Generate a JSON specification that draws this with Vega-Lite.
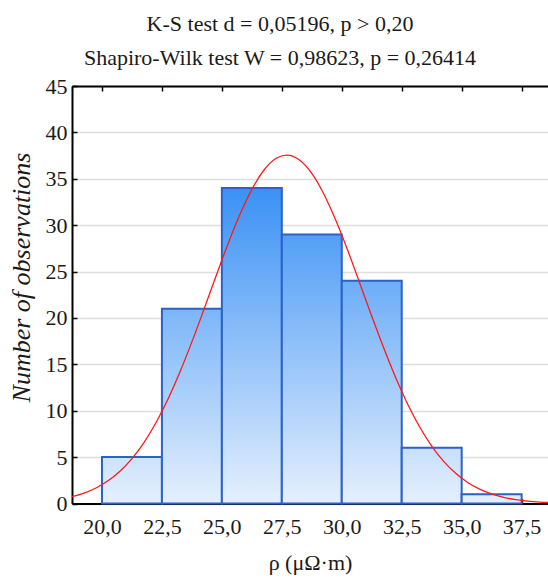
{
  "$schema": "https://vega.github.io/schema/vega-lite/v6.json",
  "width": 476,
  "height": 417.5,
  "autosize": "none",
  "padding": {"left": 72, "top": 86, "right": 0, "bottom": 75.5},
  "background": "white",
  "config": {
    "view": {"stroke": null},
    "font": "Liberation Serif",
    "axis": {
      "domainColor": "#000000",
      "domainWidth": 2,
      "tickColor": "#000000",
      "tickWidth": 1.5,
      "tickSize": -5,
      "labelFont": "Liberation Serif",
      "labelFontSize": 22,
      "labelColor": "#1a1a1a",
      "gridColor": "#dedede",
      "gridWidth": 1.5,
      "titleFont": "Liberation Serif",
      "titleFontSize": 22,
      "titleFontWeight": "normal",
      "titleColor": "#1a1a1a"
    }
  },
  "title": {
    "text": ["K-S test d = 0,05196, p > 0,20", "Shapiro-Wilk test W = 0,98623, p = 0,26414"],
    "font": "Liberation Serif",
    "fontSize": 22,
    "fontWeight": "normal",
    "color": "#1a1a1a",
    "anchor": "middle",
    "frame": "group",
    "dx": -30,
    "offset": -12,
    "baseline": "alphabetic",
    "lineHeight": 34
  },
  "datasets": {
    "bars": [
      {"rho_start": 20.0, "rho_end": 22.5, "count": 5},
      {"rho_start": 22.5, "rho_end": 25.0, "count": 21},
      {"rho_start": 25.0, "rho_end": 27.5, "count": 34},
      {"rho_start": 27.5, "rho_end": 30.0, "count": 29},
      {"rho_start": 30.0, "rho_end": 32.5, "count": 24},
      {"rho_start": 32.5, "rho_end": 35.0, "count": 6},
      {"rho_start": 35.0, "rho_end": 37.5, "count": 1}
    ],
    "curve": [
      {"rho": 18.75, "count": 0.728},
      {"rho": 19.25, "count": 1.117},
      {"rho": 19.75, "count": 1.673},
      {"rho": 20.25, "count": 2.444},
      {"rho": 20.75, "count": 3.483},
      {"rho": 21.25, "count": 4.844},
      {"rho": 21.75, "count": 6.571},
      {"rho": 22.25, "count": 8.704},
      {"rho": 22.75, "count": 11.24},
      {"rho": 23.25, "count": 14.17},
      {"rho": 23.75, "count": 17.42},
      {"rho": 24.25, "count": 20.9},
      {"rho": 24.75, "count": 24.47},
      {"rho": 25.25, "count": 27.94},
      {"rho": 25.75, "count": 31.14},
      {"rho": 26.25, "count": 33.86},
      {"rho": 26.75, "count": 35.92},
      {"rho": 27.25, "count": 37.18},
      {"rho": 27.7, "count": 37.55},
      {"rho": 28.25, "count": 36.99},
      {"rho": 28.75, "count": 35.57},
      {"rho": 29.25, "count": 33.36},
      {"rho": 29.75, "count": 30.53},
      {"rho": 30.25, "count": 27.27},
      {"rho": 30.75, "count": 23.75},
      {"rho": 31.25, "count": 20.19},
      {"rho": 31.75, "count": 16.75},
      {"rho": 32.25, "count": 13.55},
      {"rho": 32.75, "count": 10.7},
      {"rho": 33.25, "count": 8.243},
      {"rho": 33.75, "count": 6.196},
      {"rho": 34.25, "count": 4.543},
      {"rho": 34.75, "count": 3.251},
      {"rho": 35.25, "count": 2.27},
      {"rho": 35.75, "count": 1.546},
      {"rho": 36.25, "count": 1.027},
      {"rho": 36.75, "count": 0.666},
      {"rho": 37.25, "count": 0.422},
      {"rho": 37.75, "count": 0.26},
      {"rho": 38.25, "count": 0.157},
      {"rho": 38.6, "count": 0.108}
    ]
  },
  "layer": [
    {
      "data": {"name": "bars"},
      "mark": {"type": "bar", "stroke": "#2a62c8", "strokeWidth": 2, "cornerRadius": 0},
      "encoding": {
        "x": {
          "field": "rho_start",
          "type": "quantitative",
          "scale": {"domain": [18.75, 38.6], "nice": false, "zero": false},
          "axis": {
            "orient": "bottom",
            "values": [20, 22.5, 25, 27.5, 30, 32.5, 35, 37.5],
            "labelExpr": "replace(format(datum.value, '.1f'), '.', ',')",
            "grid": false,
            "labelPadding": 18,
            "title": "ρ (μΩ·m)",
            "titlePadding": 15
          }
        },
        "x2": {"field": "rho_end"},
        "y": {
          "field": "count",
          "type": "quantitative",
          "scale": {"domain": [0, 45], "nice": false},
          "axis": {
            "values": [0, 5, 10, 15, 20, 25, 30, 35, 40, 45],
            "format": "d",
            "grid": true,
            "labelPadding": 10,
            "title": "Number of observations",
            "titleFontStyle": "italic",
            "titleFontSize": 26,
            "titlePadding": 11,
            "titleY": 191
          }
        },
        "y2": {"datum": 0},
        "fill": {
          "condition": [
            {"test": "datum.count == 34", "value": {"gradient": "linear", "x1": 0, "y1": 0, "x2": 0, "y2": 1, "stops": [{"offset": 0, "color": "#3a91f5"}, {"offset": 1, "color": "#e5f0fd"}]}},
            {"test": "datum.count == 29", "value": {"gradient": "linear", "x1": 0, "y1": -0.17241, "x2": 0, "y2": 1, "stops": [{"offset": 0, "color": "#3a91f5"}, {"offset": 1, "color": "#e5f0fd"}]}},
            {"test": "datum.count == 24", "value": {"gradient": "linear", "x1": 0, "y1": -0.41667, "x2": 0, "y2": 1, "stops": [{"offset": 0, "color": "#3a91f5"}, {"offset": 1, "color": "#e5f0fd"}]}},
            {"test": "datum.count == 21", "value": {"gradient": "linear", "x1": 0, "y1": -0.61905, "x2": 0, "y2": 1, "stops": [{"offset": 0, "color": "#3a91f5"}, {"offset": 1, "color": "#e5f0fd"}]}},
            {"test": "datum.count == 6", "value": {"gradient": "linear", "x1": 0, "y1": -4.66667, "x2": 0, "y2": 1, "stops": [{"offset": 0, "color": "#3a91f5"}, {"offset": 1, "color": "#e5f0fd"}]}},
            {"test": "datum.count == 5", "value": {"gradient": "linear", "x1": 0, "y1": -5.8, "x2": 0, "y2": 1, "stops": [{"offset": 0, "color": "#3a91f5"}, {"offset": 1, "color": "#e5f0fd"}]}}
          ],
          "value": {"gradient": "linear", "x1": 0, "y1": -33, "x2": 0, "y2": 1, "stops": [{"offset": 0, "color": "#3a91f5"}, {"offset": 1, "color": "#e5f0fd"}]}
        }
      }
    },
    {
      "data": {"name": "curve"},
      "mark": {"type": "line", "color": "#ff1a1a", "strokeWidth": 1.3, "interpolate": "monotone", "clip": true},
      "encoding": {
        "x": {
          "field": "rho",
          "type": "quantitative",
          "scale": {"domain": [18.75, 38.6], "nice": false, "zero": false},
          "axis": {
            "orient": "top",
            "values": [20, 22.5, 25, 27.5, 30, 32.5, 35, 37.5],
            "labels": false,
            "grid": false,
            "title": null
          }
        },
        "y": {
          "field": "count",
          "type": "quantitative",
          "scale": {"domain": [0, 45], "nice": false},
          "axis": {
            "values": [0, 5, 10, 15, 20, 25, 30, 35, 40, 45],
            "format": "d",
            "grid": true,
            "labelPadding": 10,
            "title": "Number of observations",
            "titleFontStyle": "italic",
            "titleFontSize": 26,
            "titlePadding": 11,
            "titleY": 191
          }
        }
      }
    }
  ],
  "resolve": {"axis": {"x": "independent"}}
}
